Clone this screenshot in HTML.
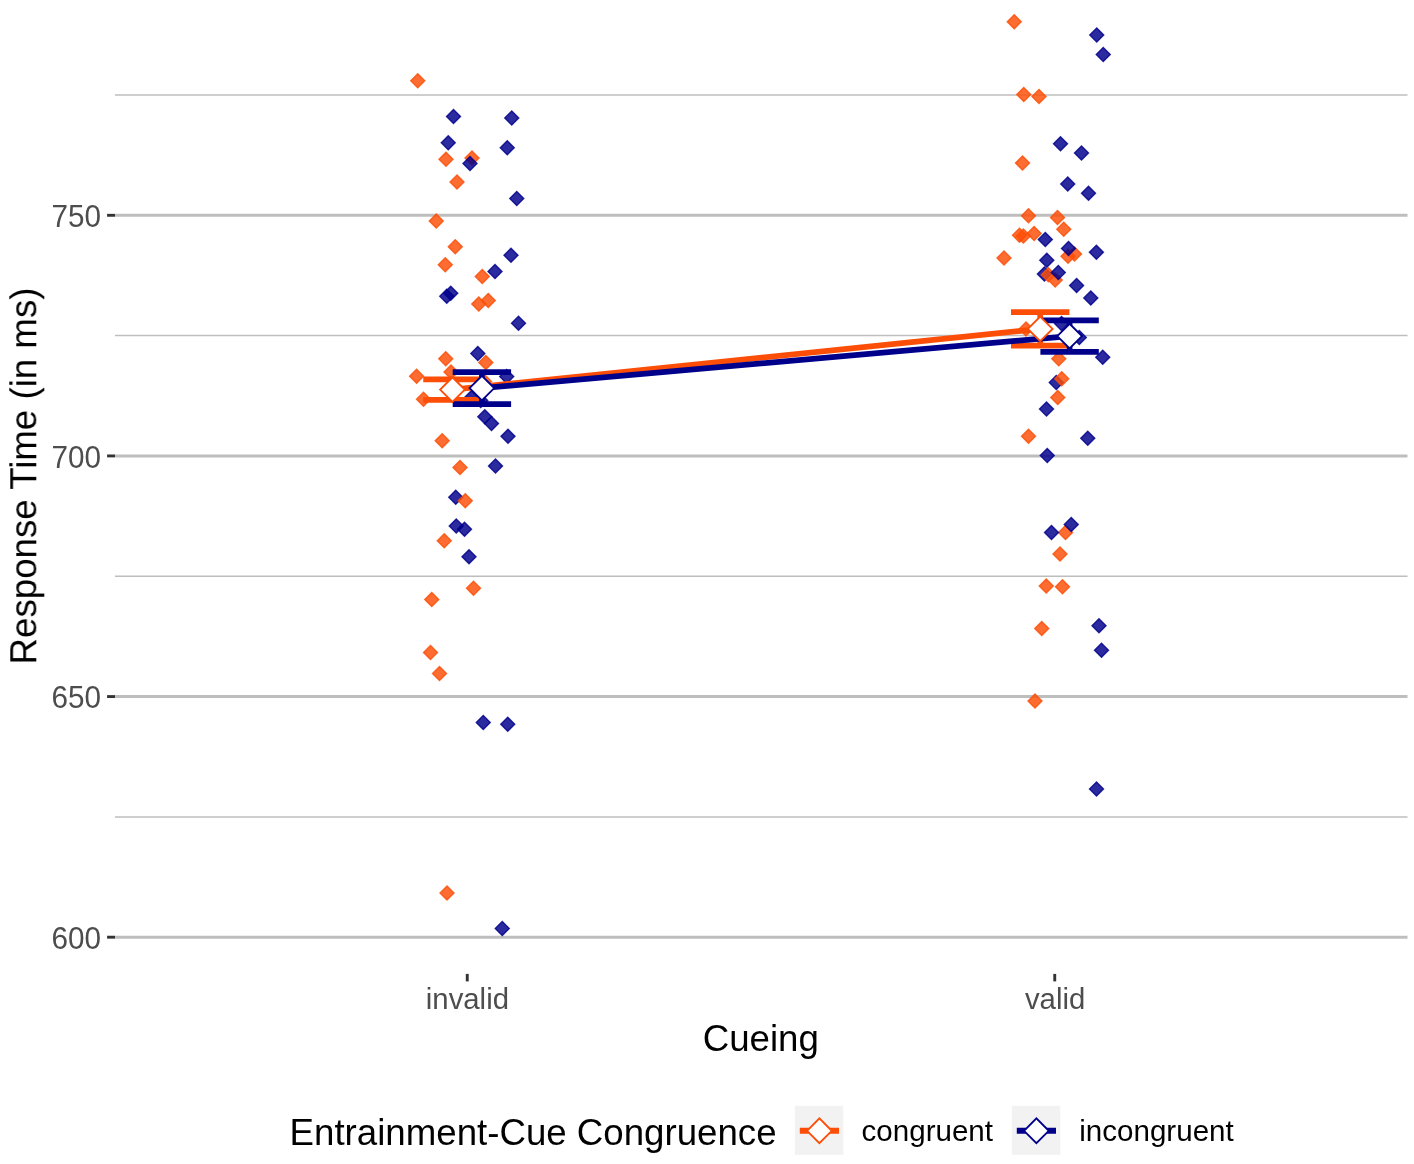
<!DOCTYPE html>
<html><head><meta charset="utf-8"><title>Response Time by Cueing</title>
<style>html,body{margin:0;padding:0;background:#fff}body{width:1414px;height:1164px;position:relative;overflow:hidden;font-family:"Liberation Sans",sans-serif}</style></head>
<body>
<svg width="1414" height="1164" viewBox="0 0 1414 1164" style="position:absolute;left:0;top:0;font-family:'Liberation Sans',sans-serif">
<rect width="1414" height="1164" fill="#fff"/>
<line x1="115.0" x2="1407.5" y1="95.0" y2="95.0" stroke="#BEBEBE" stroke-width="1.5"/>
<line x1="115.0" x2="1407.5" y1="335.6" y2="335.6" stroke="#BEBEBE" stroke-width="1.5"/>
<line x1="115.0" x2="1407.5" y1="576.25" y2="576.25" stroke="#BEBEBE" stroke-width="1.5"/>
<line x1="115.0" x2="1407.5" y1="816.9" y2="816.9" stroke="#BEBEBE" stroke-width="1.5"/>
<line x1="115.0" x2="1407.5" y1="215.3" y2="215.3" stroke="#BEBEBE" stroke-width="2.9"/>
<line x1="115.0" x2="1407.5" y1="455.93" y2="455.93" stroke="#BEBEBE" stroke-width="2.9"/>
<line x1="115.0" x2="1407.5" y1="696.56" y2="696.56" stroke="#BEBEBE" stroke-width="2.9"/>
<line x1="115.0" x2="1407.5" y1="937.19" y2="937.19" stroke="#BEBEBE" stroke-width="2.9"/>
<line x1="107.1" x2="115.0" y1="215.3" y2="215.3" stroke="#333" stroke-width="2.9"/>
<line x1="107.1" x2="115.0" y1="455.93" y2="455.93" stroke="#333" stroke-width="2.9"/>
<line x1="107.1" x2="115.0" y1="696.56" y2="696.56" stroke="#333" stroke-width="2.9"/>
<line x1="107.1" x2="115.0" y1="937.19" y2="937.19" stroke="#333" stroke-width="2.9"/>
<line x1="467.25" x2="467.25" y1="973.9" y2="981.4" stroke="#333" stroke-width="2.9"/>
<line x1="1054.75" x2="1054.75" y1="973.9" y2="981.4" stroke="#333" stroke-width="2.9"/>
<g fill="#00008B" stroke="#00008B" fill-opacity="0.83" stroke-opacity="0.83" stroke-width="1.4"><path d="M1037.40 273.90L1044.40 266.90L1051.40 273.90L1044.40 280.90Z"/><path d="M1049.25 382.50L1056.25 375.50L1063.25 382.50L1056.25 389.50Z"/><path d="M448.75 497.25L455.75 490.25L462.75 497.25L455.75 504.25Z"/></g>
<g fill="#FC4E07" stroke="#FC4E07" fill-opacity="0.83" stroke-opacity="0.83" stroke-width="1.4"><path d="M410.75 80.75L417.75 73.75L424.75 80.75L417.75 87.75Z"/><path d="M439.00 159.25L446.00 152.25L453.00 159.25L446.00 166.25Z"/><path d="M465.00 158.00L472.00 151.00L479.00 158.00L472.00 165.00Z"/><path d="M450.00 182.00L457.00 175.00L464.00 182.00L457.00 189.00Z"/><path d="M429.25 221.00L436.25 214.00L443.25 221.00L436.25 228.00Z"/><path d="M448.25 246.75L455.25 239.75L462.25 246.75L455.25 253.75Z"/><path d="M438.25 264.75L445.25 257.75L452.25 264.75L445.25 271.75Z"/><path d="M475.25 276.50L482.25 269.50L489.25 276.50L482.25 283.50Z"/><path d="M481.25 300.50L488.25 293.50L495.25 300.50L488.25 307.50Z"/><path d="M471.75 304.00L478.75 297.00L485.75 304.00L478.75 311.00Z"/><path d="M438.75 358.80L445.75 351.80L452.75 358.80L445.75 365.80Z"/><path d="M478.80 362.40L485.80 355.40L492.80 362.40L485.80 369.40Z"/><path d="M409.60 376.30L416.60 369.30L423.60 376.30L416.60 383.30Z"/><path d="M444.00 372.00L451.00 365.00L458.00 372.00L451.00 379.00Z"/><path d="M416.50 399.30L423.50 392.30L430.50 399.30L423.50 406.30Z"/><path d="M435.20 440.80L442.20 433.80L449.20 440.80L442.20 447.80Z"/><path d="M453.00 467.50L460.00 460.50L467.00 467.50L460.00 474.50Z"/><path d="M458.25 500.75L465.25 493.75L472.25 500.75L465.25 507.75Z"/><path d="M437.25 540.75L444.25 533.75L451.25 540.75L444.25 547.75Z"/><path d="M466.50 588.25L473.50 581.25L480.50 588.25L473.50 595.25Z"/><path d="M424.75 599.50L431.75 592.50L438.75 599.50L431.75 606.50Z"/><path d="M423.50 652.50L430.50 645.50L437.50 652.50L430.50 659.50Z"/><path d="M432.50 673.50L439.50 666.50L446.50 673.50L439.50 680.50Z"/><path d="M440.00 893.00L447.00 886.00L454.00 893.00L447.00 900.00Z"/><path d="M477.50 381.50L484.50 374.50L491.50 381.50L484.50 388.50Z"/></g>
<g fill="#00008B" stroke="#00008B" fill-opacity="0.83" stroke-opacity="0.83" stroke-width="1.4"><path d="M446.50 116.50L453.50 109.50L460.50 116.50L453.50 123.50Z"/><path d="M504.75 118.00L511.75 111.00L518.75 118.00L511.75 125.00Z"/><path d="M441.25 142.75L448.25 135.75L455.25 142.75L448.25 149.75Z"/><path d="M500.25 147.75L507.25 140.75L514.25 147.75L507.25 154.75Z"/><path d="M463.00 163.50L470.00 156.50L477.00 163.50L470.00 170.50Z"/><path d="M509.75 198.50L516.75 191.50L523.75 198.50L516.75 205.50Z"/><path d="M504.00 255.25L511.00 248.25L518.00 255.25L511.00 262.25Z"/><path d="M488.00 271.50L495.00 264.50L502.00 271.50L495.00 278.50Z"/><path d="M443.75 293.25L450.75 286.25L457.75 293.25L450.75 300.25Z"/><path d="M439.75 296.25L446.75 289.25L453.75 296.25L446.75 303.25Z"/><path d="M511.50 323.25L518.50 316.25L525.50 323.25L518.50 330.25Z"/><path d="M470.80 353.40L477.80 346.40L484.80 353.40L477.80 360.40Z"/><path d="M499.70 376.60L506.70 369.60L513.70 376.60L506.70 383.60Z"/><path d="M464.50 397.50L471.50 390.50L478.50 397.50L471.50 404.50Z"/><path d="M473.70 400.50L480.70 393.50L487.70 400.50L480.70 407.50Z"/><path d="M477.80 416.80L484.80 409.80L491.80 416.80L484.80 423.80Z"/><path d="M484.50 423.40L491.50 416.40L498.50 423.40L491.50 430.40Z"/><path d="M501.00 436.20L508.00 429.20L515.00 436.20L508.00 443.20Z"/><path d="M488.50 466.00L495.50 459.00L502.50 466.00L495.50 473.00Z"/><path d="M449.25 526.00L456.25 519.00L463.25 526.00L456.25 533.00Z"/><path d="M457.50 529.25L464.50 522.25L471.50 529.25L464.50 536.25Z"/><path d="M462.00 556.75L469.00 549.75L476.00 556.75L469.00 563.75Z"/><path d="M476.25 722.50L483.25 715.50L490.25 722.50L483.25 729.50Z"/><path d="M500.75 724.25L507.75 717.25L514.75 724.25L507.75 731.25Z"/><path d="M495.25 928.50L502.25 921.50L509.25 928.50L502.25 935.50Z"/></g>
<g fill="#FC4E07" stroke="#FC4E07" fill-opacity="0.83" stroke-opacity="0.83" stroke-width="1.4"><path d="M1007.25 21.75L1014.25 14.75L1021.25 21.75L1014.25 28.75Z"/><path d="M1016.75 94.50L1023.75 87.50L1030.75 94.50L1023.75 101.50Z"/><path d="M1032.00 96.50L1039.00 89.50L1046.00 96.50L1039.00 103.50Z"/><path d="M1015.50 163.00L1022.50 156.00L1029.50 163.00L1022.50 170.00Z"/><path d="M1021.50 215.70L1028.50 208.70L1035.50 215.70L1028.50 222.70Z"/><path d="M1050.50 217.60L1057.50 210.60L1064.50 217.60L1057.50 224.60Z"/><path d="M1056.75 229.20L1063.75 222.20L1070.75 229.20L1063.75 236.20Z"/><path d="M1012.50 235.20L1019.50 228.20L1026.50 235.20L1019.50 242.20Z"/><path d="M1016.40 236.10L1023.40 229.10L1030.40 236.10L1023.40 243.10Z"/><path d="M1027.10 233.50L1034.10 226.50L1041.10 233.50L1034.10 240.50Z"/><path d="M997.00 258.00L1004.00 251.00L1011.00 258.00L1004.00 265.00Z"/><path d="M1067.50 254.10L1074.50 247.10L1081.50 254.10L1074.50 261.10Z"/><path d="M1061.00 256.30L1068.00 249.30L1075.00 256.30L1068.00 263.30Z"/><path d="M1041.30 274.80L1048.30 267.80L1055.30 274.80L1048.30 281.80Z"/><path d="M1048.20 279.90L1055.20 272.90L1062.20 279.90L1055.20 286.90Z"/><path d="M1019.00 329.00L1026.00 322.00L1033.00 329.00L1026.00 336.00Z"/><path d="M1051.75 358.75L1058.75 351.75L1065.75 358.75L1058.75 365.75Z"/><path d="M1054.75 378.75L1061.75 371.75L1068.75 378.75L1061.75 385.75Z"/><path d="M1050.75 397.50L1057.75 390.50L1064.75 397.50L1057.75 404.50Z"/><path d="M1021.50 436.25L1028.50 429.25L1035.50 436.25L1028.50 443.25Z"/><path d="M1058.50 532.50L1065.50 525.50L1072.50 532.50L1065.50 539.50Z"/><path d="M1053.00 554.00L1060.00 547.00L1067.00 554.00L1060.00 561.00Z"/><path d="M1039.25 586.00L1046.25 579.00L1053.25 586.00L1046.25 593.00Z"/><path d="M1055.50 586.75L1062.50 579.75L1069.50 586.75L1062.50 593.75Z"/><path d="M1034.75 628.50L1041.75 621.50L1048.75 628.50L1041.75 635.50Z"/><path d="M1028.00 701.00L1035.00 694.00L1042.00 701.00L1035.00 708.00Z"/></g>
<g fill="#00008B" stroke="#00008B" fill-opacity="0.83" stroke-opacity="0.83" stroke-width="1.4"><path d="M1089.75 35.00L1096.75 28.00L1103.75 35.00L1096.75 42.00Z"/><path d="M1096.25 54.50L1103.25 47.50L1110.25 54.50L1103.25 61.50Z"/><path d="M1053.50 143.75L1060.50 136.75L1067.50 143.75L1060.50 150.75Z"/><path d="M1074.50 153.00L1081.50 146.00L1088.50 153.00L1081.50 160.00Z"/><path d="M1060.75 184.00L1067.75 177.00L1074.75 184.00L1067.75 191.00Z"/><path d="M1081.50 193.25L1088.50 186.25L1095.50 193.25L1088.50 200.25Z"/><path d="M1038.30 239.40L1045.30 232.40L1052.30 239.40L1045.30 246.40Z"/><path d="M1061.50 248.40L1068.50 241.40L1075.50 248.40L1068.50 255.40Z"/><path d="M1089.40 252.20L1096.40 245.20L1103.40 252.20L1096.40 259.20Z"/><path d="M1039.80 260.20L1046.80 253.20L1053.80 260.20L1046.80 267.20Z"/><path d="M1051.30 272.60L1058.30 265.60L1065.30 272.60L1058.30 279.60Z"/><path d="M1069.60 285.50L1076.60 278.50L1083.60 285.50L1076.60 292.50Z"/><path d="M1083.80 298.00L1090.80 291.00L1097.80 298.00L1090.80 305.00Z"/><path d="M1054.50 323.50L1061.50 316.50L1068.50 323.50L1061.50 330.50Z"/><path d="M1072.30 337.40L1079.30 330.40L1086.30 337.40L1079.30 344.40Z"/><path d="M1095.75 357.25L1102.75 350.25L1109.75 357.25L1102.75 364.25Z"/><path d="M1039.50 409.00L1046.50 402.00L1053.50 409.00L1046.50 416.00Z"/><path d="M1080.75 438.25L1087.75 431.25L1094.75 438.25L1087.75 445.25Z"/><path d="M1040.25 455.50L1047.25 448.50L1054.25 455.50L1047.25 462.50Z"/><path d="M1064.25 524.50L1071.25 517.50L1078.25 524.50L1071.25 531.50Z"/><path d="M1044.50 532.50L1051.50 525.50L1058.50 532.50L1051.50 539.50Z"/><path d="M1092.00 625.75L1099.00 618.75L1106.00 625.75L1099.00 632.75Z"/><path d="M1094.50 650.25L1101.50 643.25L1108.50 650.25L1101.50 657.25Z"/><path d="M1089.50 789.00L1096.50 782.00L1103.50 789.00L1096.50 796.00Z"/></g>
<path d="M423.25 379.40H481.65M423.25 399.80H481.65M452.45 379.40V399.80" stroke="#FC4E07" stroke-width="5.67" fill="none"/>
<path d="M1011.00 312.10H1069.40M1011.00 345.70H1069.40M1040.20 312.10V345.70" stroke="#FC4E07" stroke-width="5.67" fill="none"/>
<path d="M452.70 372.10H511.10M452.70 404.10H511.10M481.90 372.10V404.10" stroke="#00008B" stroke-width="5.67" fill="none"/>
<path d="M1040.40 320.35H1098.80M1040.40 351.85H1098.80M1069.60 320.35V351.85" stroke="#00008B" stroke-width="5.67" fill="none"/>
<line x1="452.45" y1="389.6" x2="1040.2" y2="328.9" stroke="#FC4E07" stroke-width="5.67"/>
<line x1="481.9" y1="388.1" x2="1069.6" y2="336.1" stroke="#00008B" stroke-width="5.67"/>
<path d="M440.10 389.60L452.45 377.25L464.80 389.60L452.45 401.95Z" fill="#fff" stroke="#FC4E07" stroke-width="1.9"/>
<path d="M1027.85 328.90L1040.20 316.55L1052.55 328.90L1040.20 341.25Z" fill="#fff" stroke="#FC4E07" stroke-width="1.9"/>
<path d="M469.55 388.10L481.90 375.75L494.25 388.10L481.90 400.45Z" fill="#fff" stroke="#00008B" stroke-width="1.9"/>
<path d="M1057.25 336.10L1069.60 323.75L1081.95 336.10L1069.60 348.45Z" fill="#fff" stroke="#00008B" stroke-width="1.9"/>
<rect x="794.8" y="1105.8" width="48.5" height="49" fill="#F2F2F2"/>
<line x1="799.80" x2="839.00" y1="1130.8" y2="1130.8" stroke="#FC4E07" stroke-width="6"/>
<path d="M807.05 1130.80L819.40 1118.45L831.75 1130.80L819.40 1143.15Z" fill="#fff" stroke="#FC4E07" stroke-width="1.9"/>
<rect x="1011.8" y="1105.8" width="48.5" height="49" fill="#F2F2F2"/>
<line x1="1016.80" x2="1056.00" y1="1130.8" y2="1130.8" stroke="#00008B" stroke-width="6"/>
<path d="M1024.05 1130.80L1036.40 1118.45L1048.75 1130.80L1036.40 1143.15Z" fill="#fff" stroke="#00008B" stroke-width="1.9"/>
<g opacity="0.999">
<text transform="translate(101.0 227.00) scale(0.99 1.07)" font-size="30" fill="#4D4D4D" text-anchor="end">750</text>
<text transform="translate(101.0 467.63) scale(0.99 1.07)" font-size="30" fill="#4D4D4D" text-anchor="end">700</text>
<text transform="translate(101.0 708.26) scale(0.99 1.07)" font-size="30" fill="#4D4D4D" text-anchor="end">650</text>
<text transform="translate(101.0 948.89) scale(0.99 1.07)" font-size="30" fill="#4D4D4D" text-anchor="end">600</text>
<text x="467.4" y="1009.2" font-size="29.33" fill="#4D4D4D" text-anchor="middle">invalid</text>
<text x="1055.1" y="1009.2" font-size="29.33" fill="#4D4D4D" text-anchor="middle">valid</text>
<text x="760.8" y="1051.2" font-size="36.67" fill="#000" text-anchor="middle">Cueing</text>
<text transform="translate(36.3 476) rotate(-90)" font-size="36.67" fill="#000" text-anchor="middle">Response Time (in ms)</text>
<text x="289.6" y="1144.6" font-size="36.67" fill="#000">Entrainment-Cue Congruence</text>
<text x="861.6" y="1140.9" font-size="29.55" fill="#000">congruent</text>
<text x="1079.3" y="1140.9" font-size="29.55" fill="#000">incongruent</text>
</g>
</svg>
</body></html>
